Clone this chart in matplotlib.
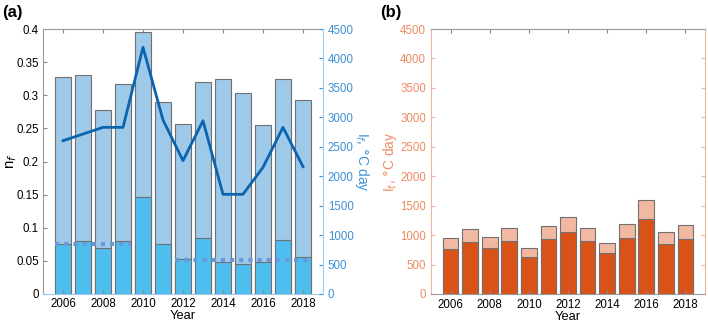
import matplotlib.pyplot as plt
import numpy as np

plt.rcParams['font.family'] = ['Liberation Sans', 'DejaVu Sans']

years = np.arange(2006, 2019)

# panel (a)
nf_total = [0.328, 0.330, 0.277, 0.317, 0.396, 0.290, 0.257, 0.320, 0.325, 0.303, 0.255, 0.325, 0.293]
nf_low = [0.075, 0.080, 0.070, 0.080, 0.147, 0.076, 0.053, 0.084, 0.048, 0.045, 0.049, 0.082, 0.056]
If_line = [2603, 2716, 2830, 2830, 4189, 2955, 2264, 2943, 1693, 1693, 2151, 2830, 2162]
mean_early_years = [2006, 2009]
mean_early = 0.076
mean_late_years = [2012, 2018]
mean_late = 0.052

# panel (b)
It_total = [958, 1100, 975, 1117, 777, 1162, 1315, 1117, 862, 1185, 1593, 1054, 1179]
It_low = [760, 879, 782, 896, 624, 935, 1049, 896, 697, 947, 1276, 850, 941]

light_blue = '#9fc9e9'
cyan = '#4dbeee'
line_blue = '#0a64b0'
axis_blue = '#3d91d6'
orange = '#d95319'
salmon = '#f2b9a2'
orange_txt = '#ee8a62'
edge = '#707070'
fs = 8.3
bw = 0.8

fig = plt.figure(figsize=(7.08, 3.26), dpi=100)

# ----- (a)
ax = fig.add_axes([43/708, 1-294/326, 280/708, 265/326])
ax.bar(years, nf_total, width=bw, color=light_blue, edgecolor=edge, linewidth=0.8)
ax.bar(years, nf_low, width=bw, color=cyan, edgecolor=edge, linewidth=0.8)
# mean levels, drawn across the bars of each period
ax.hlines(mean_early, mean_early_years[0] - bw/2, mean_early_years[1] + bw/2,
          color='#6a98dc', lw=3, linestyles=(0, (1, 1.2)))
ax.hlines(mean_late, mean_late_years[0] - bw/2, mean_late_years[1] + bw/2,
          color='#6a98dc', lw=3, linestyles=(0, (1, 1.2)))
ax.set_xlim(2005, 2019)
ax.set_ylim(0, 0.4)
ax.set_yticks(np.arange(0, 0.41, 0.05))
ax.set_yticklabels(['0', '0.05', '0.1', '0.15', '0.2', '0.25', '0.3', '0.35', '0.4'])
ax.set_xticks(np.arange(2006, 2019, 2))
ax.tick_params(direction='in', labelsize=fs, top=True, length=3, color='#888888', pad=3)
ax.set_xlabel('Year', fontsize=fs + 1, labelpad=0)
ax.set_ylabel('n$_f$', fontsize=fs + 2.5)
ax.yaxis.set_label_coords(-0.085, 0.5)
for s in ['left', 'top']:
    ax.spines[s].set_color('#999999')
ax.spines['bottom'].set_color('#9cc8ec')
ax.spines['right'].set_visible(False)

ax2 = ax.twinx()
ax2.plot(years, If_line, color=line_blue, lw=2)
ax2.set_ylim(0, 4500)
ax2.set_yticks(np.arange(0, 4501, 500))
ax2.tick_params(direction='in', labelsize=fs, colors=axis_blue, length=3)
ax2.spines['right'].set_color('#9cc8ec')
for s in ['left', 'top', 'bottom']:
    ax2.spines[s].set_visible(False)
ax2.set_ylabel('I$_f$, $\\degree$C day', fontsize=fs + 1.5, color=axis_blue,
               rotation=270, labelpad=12)

# ----- (b)
bx = fig.add_axes([431/708, 1-294/326, 274/708, 265/326])
bx.bar(years, It_total, width=bw, color=salmon, edgecolor=edge, linewidth=0.8)
bx.bar(years, It_low, width=bw, color=orange, edgecolor=edge, linewidth=0.8)
bx.set_xlim(2005, 2019)
bx.set_ylim(0, 4500)
bx.set_yticks(np.arange(0, 4501, 500))
bx.set_xticks(np.arange(2006, 2019, 2))
bx.tick_params(axis='x', direction='in', labelsize=fs, top=True, length=3, color='#888888')
bx.tick_params(axis='y', direction='in', labelsize=fs, labelcolor=orange_txt, right=True,
               length=3, color='#f4b49a')
bx.set_xlabel('Year', fontsize=fs + 1, labelpad=0)
bx.set_ylabel('I$_t$, $\\degree$C day', fontsize=fs + 1.5, color=orange_txt, labelpad=1)
for s in ['top', 'bottom']:
    bx.spines[s].set_color('#999999')
for s in ['left', 'right']:
    bx.spines[s].set_color('#f4b49a')

fig.text(2/708, 1-12/326, '(a)', fontsize=12, fontweight='bold', va='center', ha='left')
fig.text(380/708, 1-12/326, '(b)', fontsize=12, fontweight='bold', va='center', ha='left')

fig.savefig('out.png', dpi=100)
